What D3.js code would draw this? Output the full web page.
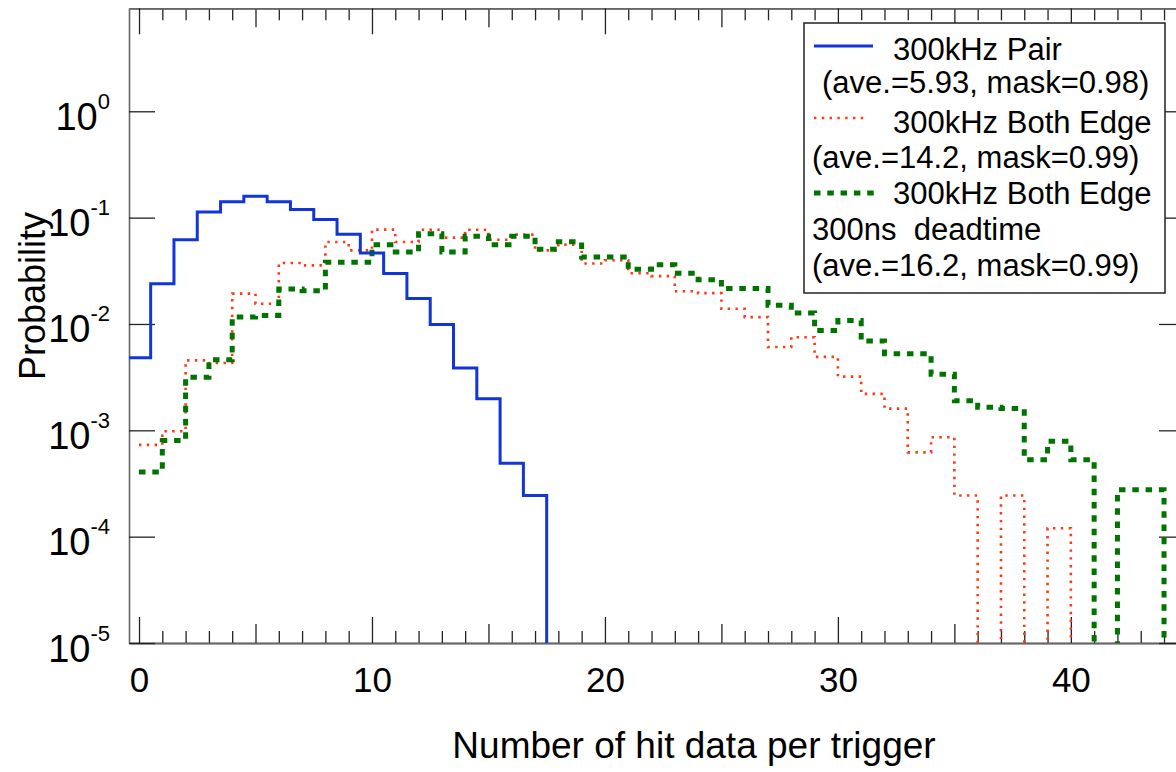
<!DOCTYPE html>
<html>

<head>
    <meta charset="utf-8" />
    <title>Hit data per trigger</title>
    <style>
        body {
            margin: 0;
            background: #fff;
        }

        svg text {
            font-family: "Liberation Sans", Arial, sans-serif;
            fill: #000;
        }

        .frame .domain {
            stroke: #666;
            stroke-width: 1.6px;
        }

        .frame .tick line {
            stroke: #222;
            stroke-width: 1.3px;
        }
    </style>
</head>

<body>
    <div id="chart"></div>
    <script src="https://cdnjs.cloudflare.com/ajax/libs/d3/7.8.5/d3.min.js"></script>
    <script>
        // data (probability per bin)
        var xTicks = [0, 10, 20, 30, 40];
        var yTicks = [1, 1e-1, 1e-2, 1e-3, 1e-4, 1e-5];
        var yTickExp = ["0", "-1", "-2", "-3", "-4", "-5"];

        // 300kHz Pair, bins centred on 0,1,2,...
        var pairStart = -0.5;
        var pairValues = [4.8e-3, 0.0239, 0.0621, 0.113, 0.141, 0.159, 0.141, 0.119, 0.0958, 0.0696,
            0.0465, 0.0299, 0.0174, 0.0099, 0.00385, 0.00198, 0.00049, 0.000244, 0];

        // 300kHz Both Edge, bins [k, k+1]
        var bothStart = 0;
        var bothValues = [7.3e-4, 9.8e-4, 4.55e-3, 4.3e-3, 0.0193, 0.0155, 0.0374, 0.0356, 0.059, 0.0492,
            0.0771, 0.059, 0.077, 0.0648, 0.077, 0.062, 0.0692, 0.0492, 0.0557, 0.037,
            0.0397, 0.030, 0.0282, 0.0203, 0.0195, 0.0139, 0.0116, 0.00607, 0.0075, 0.0049,
            0.0032, 0.0022, 0.0016, 0.00062, 0.00086, 0.000244, 0, 0.000244, 0, 0.00012, 0];

        // 300kHz Both Edge with 300ns deadtime, bins [k, k+1]
        var deadStart = 0;
        var deadValues = [4.05e-4, 8.0e-4, 3.16e-3, 4.6e-3, 0.0116, 0.0120, 0.0213, 0.0205, 0.038, 0.038,
            0.0557, 0.0475, 0.0707, 0.0475, 0.0667, 0.0557, 0.0667, 0.0503, 0.0594, 0.0426,
            0.0426, 0.0327, 0.036, 0.0300, 0.0261, 0.0215, 0.0215, 0.015, 0.0127, 0.0087,
            0.0108, 0.0069, 0.00525, 0.00525, 0.00336, 0.0019, 0.00165, 0.0016, 0.00053, 0.00079,
            0.00053, 0, 0.000276, 0.000276, 0];

        var legendLines = [
            { text: "300kHz Pair", x: 893, y: 60 },
            { text: "(ave.=5.93, mask=0.98)", x: 822, y: 93 },
            { text: "300kHz Both Edge", x: 893, y: 133 },
            { text: "(ave.=14.2, mask=0.99)", x: 812, y: 168 },
            { text: "300kHz Both Edge", x: 893, y: 204 },
            { text: "300ns  deadtime", x: 812, y: 240 },
            { text: "(ave.=16.2, mask=0.99)", x: 812, y: 276 }
        ];

        var w = 1176;
        var h = 772;
        var pLeft = 129, pRight = 1185, pTop = 8.3, pBottom = 643;

        var svg = d3.select("#chart").append("svg")
            .attr("width", w)
            .attr("height", h);

        var x = d3.scaleLinear()
            .domain([-0.43, 44.9])
            .range([pLeft, pRight]);

        var y = d3.scaleLog()
            .domain([1e-5, 9.3])
            .range([pBottom, pTop]);

        var styles = {
            pair: { color: "#1235d8", width: 3, dash: null },
            both: { color: "#ff3712", width: 2.6, dash: "2.4,5.4" },
            dead: { color: "#007400", width: 5, dash: "6.5,6.8" }
        };

        // plot clip
        svg.append("defs").append("clipPath")
            .attr("id", "plotclip")
            .append("rect")
            .attr("x", pLeft)
            .attr("y", pTop)
            .attr("width", pRight - pLeft)
            .attr("height", pBottom - pTop);

        // axes on all four sides, ticks pointing inside
        var frame = svg.append("g").attr("class", "frame");
        var mids = d3.range(5, 45, 10);
        var minors = d3.range(1, 45).filter(function(d) {
            return d % 5 !== 0;
        });

        function xAxes(maker, yPos) {
            var g = frame.append("g").attr("transform", "translate(0," + yPos + ")");
            g.append("g").call(maker(x).tickValues(minors).tickSize(-12).tickSizeOuter(0).tickFormat(""));
            g.append("g").call(maker(x).tickValues(mids).tickSize(-19).tickSizeOuter(0).tickFormat(""));
            return g.append("g").call(maker(x).tickValues(xTicks).tickSize(-26).tickSizeOuter(0).tickPadding(24));
        }

        var xBottom = xAxes(d3.axisBottom, pBottom);
        xBottom.selectAll("text")
            .attr("font-size", "35px")
            .attr("font-family", "Liberation Sans, Arial, sans-serif");

        var xTop = xAxes(d3.axisTop, pTop);
        xTop.selectAll("text").remove();

        var yLeft = frame.append("g")
            .attr("transform", "translate(" + pLeft + ",0)")
            .call(d3.axisLeft(y).tickValues(yTicks).tickSize(-26).tickSizeOuter(0).tickFormat(""));

        frame.append("g")
            .attr("transform", "translate(" + pRight + ",0)")
            .call(d3.axisRight(y).tickValues(yTicks).tickSize(-26).tickSizeOuter(0).tickFormat(""));

        // y tick labels as 10 with a superscript
        yLeft.selectAll(".tick").each(function(d, i) {
            var t = d3.select(this).append("text")
                .attr("x", -19)
                .attr("y", 18)
                .attr("text-anchor", "end")
                .attr("font-size", "38px")
                .attr("font-family", "Liberation Sans, Arial, sans-serif");
            t.append("tspan").text("10");
            t.append("tspan")
                .attr("dy", -21)
                .attr("font-size", "22px")
                .text(yTickExp[i]);
        });

        // histograms
        function stepPoints(start, values) {
            return values.map(function(v, i) {
                return [start + i, v];
            });
        }

        var line = d3.line()
            .curve(d3.curveStepAfter)
            .x(function(d) {
                return x(d[0]);
            })
            .y(function(d) {
                return d[1] > 0 ? y(d[1]) : pBottom + 40;
            });

        var plot = svg.append("g").attr("clip-path", "url(#plotclip)");

        var series = [
            { key: "both", start: bothStart, values: bothValues },
            { key: "dead", start: deadStart, values: deadValues },
            { key: "pair", start: pairStart, values: pairValues }
        ];

        series.forEach(function(s) {
            var st = styles[s.key];
            plot.append("path")
                .datum(stepPoints(s.start, s.values))
                .attr("d", line)
                .attr("fill", "none")
                .attr("stroke", st.color)
                .attr("stroke-width", st.width)
                .attr("stroke-dasharray", st.dash);
        });

        // axis titles
        svg.append("text")
            .attr("x", 694)
            .attr("y", 758)
            .attr("text-anchor", "middle")
            .attr("font-size", "37px")
            .text("Number of hit data per trigger");

        svg.append("text")
            .attr("transform", "translate(45,296) rotate(-90)")
            .attr("text-anchor", "middle")
            .attr("font-size", "36px")
            .text("Probability");

        // legend
        var legend = svg.append("g");
        legend.append("rect")
            .attr("x", 804)
            .attr("y", 23)
            .attr("width", 361)
            .attr("height", 270)
            .attr("fill", "#fff")
            .attr("stroke", "#222")
            .attr("stroke-width", 1.5);

        var samples = [
            { key: "pair", y: 46, x2: 873 },
            { key: "both", y: 118, x2: 866 },
            { key: "dead", y: 193, x2: 876 }
        ];
        samples.forEach(function(s) {
            var st = styles[s.key];
            legend.append("line")
                .attr("x1", 814)
                .attr("x2", s.x2)
                .attr("y1", s.y)
                .attr("y2", s.y)
                .attr("stroke", st.color)
                .attr("stroke-width", st.width)
                .attr("stroke-dasharray", st.dash);
        });

        legend.selectAll("text.leg")
            .data(legendLines)
            .enter()
            .append("text")
            .attr("class", "leg")
            .attr("x", function(d) {
                return d.x;
            })
            .attr("y", function(d) {
                return d.y;
            })
            .attr("font-size", "31px")
            .style("white-space", "pre")
            .text(function(d) {
                return d.text;
            });
    </script>
</body>

</html>
